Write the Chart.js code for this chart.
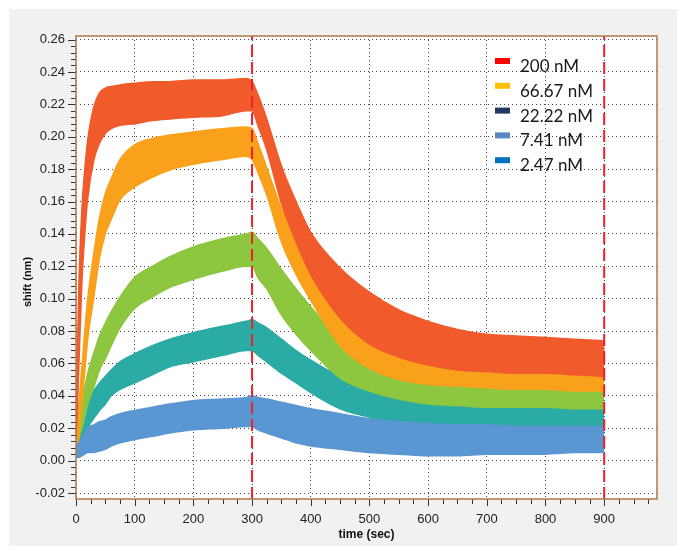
<!DOCTYPE html>
<html><head><meta charset="utf-8">
<script src="https://cdn.jsdelivr.net/npm/chart.js@4.4.0/dist/chart.umd.min.js"></script>
<style>
html,body{margin:0;padding:0;background:#fff;overflow:hidden;}
#panel{position:absolute;left:9px;top:9px;width:668px;height:537px;background:#f1f1f1;}
#wrap{position:absolute;left:0;top:0;width:677px;height:546px;}
</style></head><body>
<div id="panel"></div>
<div id="wrap"><canvas id="c" width="677" height="546"></canvas></div>
<script>
// ---- data ----
const time = [0,5,10,15,20,30,40,50,60,75,100,130,160,200,250,290,300,310,325,350,375,400,450,500,550,600,650,700,750,800,850,900];

const redHi = [0.022,0.110,0.155,0.180,0.198,0.218,0.227,0.230,0.231,0.232,0.233,0.234,0.234,0.235,0.235,0.236,0.234,0.226,0.211,0.182,0.160,0.141,0.119,0.104,0.093,0.086,0.081,0.078,0.077,0.076,0.075,0.074];
const redLo = [0.010,0.060,0.110,0.140,0.162,0.185,0.196,0.202,0.205,0.207,0.208,0.210,0.211,0.212,0.213,0.216,0.216,0.207,0.192,0.159,0.135,0.115,0.088,0.072,0.064,0.059,0.056,0.055,0.054,0.054,0.053,0.052];

const orangeHi = [0.018,0.035,0.058,0.080,0.100,0.127,0.150,0.165,0.174,0.186,0.195,0.199,0.201,0.203,0.205,0.206,0.205,0.196,0.181,0.156,0.138,0.123,0.095,0.077,0.069,0.064,0.061,0.059,0.058,0.058,0.057,0.057];
const orangeLo = [0.010,0.015,0.035,0.055,0.075,0.100,0.125,0.140,0.149,0.161,0.169,0.175,0.1795,0.183,0.186,0.188,0.186,0.178,0.164,0.135,0.115,0.099,0.071,0.057,0.050,0.047,0.046,0.045,0.044,0.044,0.043,0.043];

const greenHi = [0.018,0.025,0.035,0.045,0.054,0.066,0.077,0.085,0.092,0.101,0.113,0.120,0.126,0.132,0.137,0.140,0.141,0.137,0.131,0.118,0.106,0.095,0.075,0.064,0.057,0.053,0.050,0.049,0.048,0.048,0.047,0.047];
const greenLo = [0.010,0.014,0.020,0.027,0.035,0.045,0.056,0.063,0.071,0.082,0.094,0.101,0.107,0.112,0.117,0.120,0.120,0.113,0.106,0.090,0.078,0.068,0.051,0.043,0.038,0.035,0.034,0.033,0.033,0.033,0.032,0.032];

const tealHi = [0.018,0.022,0.028,0.033,0.038,0.043,0.048,0.052,0.056,0.061,0.066,0.071,0.075,0.079,0.083,0.086,0.087,0.085,0.082,0.075,0.068,0.062,0.052,0.046,0.042,0.040,0.038,0.037,0.037,0.036,0.036,0.036];
const tealLo = [0.010,0.013,0.016,0.019,0.021,0.026,0.031,0.035,0.040,0.044,0.048,0.053,0.058,0.061,0.065,0.068,0.068,0.065,0.061,0.054,0.048,0.042,0.032,0.027,0.025,0.024,0.023,0.023,0.022,0.022,0.022,0.022];

const blueHi = [0.020,0.019,0.020,0.020,0.021,0.022,0.024,0.025,0.027,0.029,0.031,0.033,0.035,0.037,0.038,0.039,0.040,0.039,0.038,0.036,0.034,0.032,0.029,0.026,0.025,0.024,0.024,0.024,0.024,0.024,0.024,0.024];
const blueLo = [0.002,0.002,0.003,0.004,0.005,0.005,0.006,0.007,0.009,0.011,0.013,0.015,0.017,0.019,0.020,0.021,0.021,0.019,0.017,0.014,0.011,0.009,0.007,0.005,0.004,0.003,0.003,0.004,0.004,0.004,0.005,0.005];

const phaseMarks = [300, 900];
const xTicks = [0,100,200,300,400,500,600,700,800,900];
const yTicks = [-0.02,0,0.02,0.04,0.06,0.08,0.10,0.12,0.14,0.16,0.18,0.20,0.22,0.24,0.26];
const legendLabels = ['200 nM','66.67 nM','22.22 nM','7.41 nM','2.47 nM'];
const legendColors = ['#ff0000','#ffc000','#1f3864','#5b87c5','#0070c0'];

// ---- styling ----
const X_MIN = 0, X_MAX = 990, Y_MIN = -0.0237, Y_MAX = 0.2622;
const bands = [
  {hi: redHi, lo: redLo, color: '#f15a2b'},
  {hi: orangeHi, lo: orangeLo, color: '#f9a11b'},
  {hi: greenHi, lo: greenLo, color: '#8dc63f'},
  {hi: tealHi, lo: tealLo, color: '#2aaba3'},
  {hi: blueHi, lo: blueLo, color: '#5a96d2'}
];

const datasets = [];
phaseMarks.forEach(px => {
  datasets.push({
    data: [{x: px, y: Y_MIN}, {x: px, y: Y_MAX}],
    borderColor: '#f0202a', borderWidth: 2, borderDash: [12, 5],
    pointRadius: 0, fill: false
  });
});
bands.forEach(b => {
  datasets.push({
    data: time.map((t, i) => ({x: t, y: b.hi[i]})),
    borderColor: b.color, borderWidth: 1.5, pointRadius: 0, fill: false,
    cubicInterpolationMode: 'monotone'
  });
  datasets.push({
    data: time.map((t, i) => ({x: t, y: b.lo[i]})),
    borderColor: b.color, borderWidth: 1.5, pointRadius: 0,
    backgroundColor: b.color, fill: '-1',
    cubicInterpolationMode: 'monotone'
  });
});

const decor = {
  id: 'decor',
  beforeDraw(chart) {
    const {ctx, chartArea: a} = chart;
    ctx.save();
    ctx.fillStyle = '#ffffff';
    ctx.fillRect(a.left, a.top, a.right - a.left, a.bottom - a.top);
    ctx.restore();
  },
  afterDraw(chart) {
    const {ctx, chartArea: a, scales} = chart;
    const xs = scales.x, ys = scales.y;
    ctx.save();
    ctx.strokeStyle = '#333';
    ctx.lineWidth = 1;
    ctx.beginPath();
    for (let k = 0; k <= 70; k++) {
      const v = -0.02 + k * 0.004;
      const y = Math.round(ys.getPixelForValue(v)) + 0.5;
      const len = (k % 5 === 0) ? 8 : 5;
      ctx.moveTo(a.left - len, y); ctx.lineTo(a.left, y);
    }
    for (let k = 0; k * 25 <= X_MAX; k++) {
      const x = Math.round(xs.getPixelForValue(k * 25)) + 0.5;
      const len = (k % 4 === 0) ? 7 : 5;
      ctx.moveTo(x, a.bottom); ctx.lineTo(x, a.bottom + len);
    }
    ctx.stroke();
    ctx.strokeStyle = '#b07a4a';
    ctx.lineWidth = 1.5;
    ctx.strokeRect(a.left, a.top, a.right - a.left, a.bottom - a.top);
    ctx.fillStyle = '#111';
    ctx.font = 'bold 11px "Liberation Sans", Arial, sans-serif';
    ctx.textAlign = 'center';
    ctx.textBaseline = 'middle';
    ctx.translate(28, 282);
    ctx.rotate(-Math.PI / 2);
    ctx.fillText('shift (nm)', 0, 0);
    ctx.restore();
    ctx.save();
    ctx.font = '17px Lato, "Open Sans", sans-serif';
    ctx.textAlign = 'left';
    ctx.textBaseline = 'alphabetic';
    legendLabels.forEach((lab, i) => {
      const base = 72 + i * 24.8;
      ctx.fillStyle = legendColors[i];
      ctx.fillRect(495, base - 14, 15, 6);
      ctx.fillStyle = '#1a1a1a';
      ctx.fillText(lab, 520, base);
    });
    ctx.restore();
  }
};

new Chart(document.getElementById('c'), {
  type: 'line',
  data: {datasets},
  options: {
    responsive: false, animation: false, devicePixelRatio: 1,
    layout: {padding: {top: 36, right: 20, left: 0, bottom: 0}},
    plugins: {legend: {display: false}, tooltip: {enabled: false}},
    elements: {line: {tension: 0}},
    scales: {
      x: {
        type: 'linear', min: X_MIN, max: X_MAX,
        afterBuildTicks: s => { s.ticks = xTicks.map(v => ({value: v})); },
        afterFit: s => { s.height = 47; },
        grid: {color: '#444', lineWidth: 1, drawTicks: false},
        border: {display: false, dash: [1, 3]},
        ticks: {color: '#222', font: {family: '"Liberation Sans", Arial, sans-serif', size: 13}, padding: 13, maxRotation: 0},
        title: {display: true, text: 'time (sec)', color: '#111',
          font: {family: '"Liberation Sans", Arial, sans-serif', size: 12, weight: 'bold'},
          padding: {top: 0, bottom: 4}}
      },
      y: {
        type: 'linear', min: Y_MIN, max: Y_MAX,
        afterBuildTicks: s => { s.ticks = yTicks.map(v => ({value: v})); },
        afterFit: s => { s.width = 76; },
        grid: {color: '#444', lineWidth: 1, drawTicks: false},
        border: {display: false, dash: [1, 3]},
        ticks: {color: '#222', font: {family: '"Liberation Sans", Arial, sans-serif', size: 13}, padding: 11,
          callback: v => v.toFixed(2)}
      }
    }
  },
  plugins: [decor]
});
</script>
</body></html>
